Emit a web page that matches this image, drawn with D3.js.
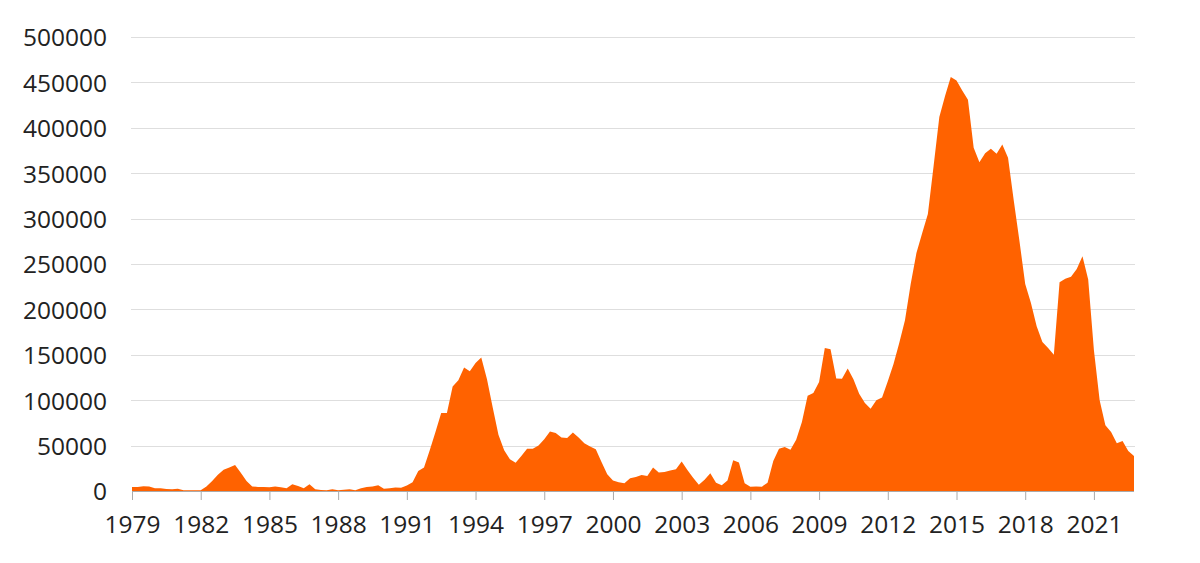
<!DOCTYPE html>
<html>
<head>
<meta charset="utf-8">
<script src="https://cdn.jsdelivr.net/npm/d3@7"></script>
<style>
  html, body { margin: 0; padding: 0; background: #fff; }
  svg { display: block; }
</style>
</head>
<body>
<svg id="chart" width="1200" height="563"></svg>
<script>
// Quarterly series, first quarter = 1979 Q1
const startYear = 1979;
const values = [
  4500, 4500, 5200, 5000,        // 1979
  3000, 3000, 2200, 1800,        // 1980
  2500, 800, 800, 800,           // 1981
  800, 5000, 11000, 18000,       // 1982
  23500, 26000, 28600, 20000,    // 1983
  11000, 5000, 4500, 4500,       // 1984
  4000, 5000, 4000, 3000,        // 1985
  7300, 5500, 3000, 7300,        // 1986
  2000, 1200, 700, 2000,         // 1987
  700, 1500, 1800, 700,          // 1988
  3000, 4500, 5000, 6300,        // 1989
  2500, 3000, 3800, 3500,        // 1990
  6000, 9500, 22000, 26000,      // 1991
  45000, 65000, 86000, 86000,    // 1992
  115000, 122000, 136000, 132000,// 1993
  141000, 147000, 123000, 92000, // 1994
  62000, 45000, 35000, 31000,    // 1995
  38500, 46500, 46500, 50000,    // 1996
  57000, 65500, 64000, 59000,    // 1997
  58500, 64500, 59000, 52500,    // 1998
  49000, 46000, 32000, 18500,    // 1999
  11500, 9500, 8500, 14000,      // 2000
  15500, 17500, 16500, 26000,    // 2001
  20500, 21000, 22500, 24000,    // 2002
  32500, 23000, 14500, 7000,     // 2003
  12500, 19500, 9000, 6300,      // 2004
  11500, 34000, 31500, 8500,     // 2005
  4800, 5000, 4800, 9000,        // 2006
  33000, 46500, 48500, 45500,    // 2007
  56500, 76000, 105000, 108000,  // 2008
  120000, 157500, 156000, 124000,// 2009
  123500, 135000, 123000, 107000,// 2010
  97000, 90500, 100000, 103000,  // 2011
  121000, 140000, 163000, 188000,// 2012
  228000, 262000, 284000, 305000,// 2013
  358000, 412000, 435000, 456000,// 2014
  452000, 441000, 431000, 378000,// 2015
  362000, 372000, 377000, 371500,// 2016
  381500, 367000, 320000, 275000,// 2017
  228000, 207000, 181500, 164000,// 2018
  157500, 150000, 230000, 233700,// 2019
  236000, 244600, 258600, 233000,// 2020
  155000, 100000, 72300, 65000,  // 2021
  52500, 55000, 44000, 38500     // 2022
];
const xTickYears = [1979, 1982, 1985, 1988, 1991, 1994, 1997, 2000, 2003, 2006, 2009, 2012, 2015, 2018, 2021];
const yTickValues = [0, 50000, 100000, 150000, 200000, 250000, 300000, 350000, 400000, 450000, 500000];

const data = values.map((v, i) => ({ t: startYear + i / 4, v }));

const svg = d3.select("#chart");
const plotLeft = 132, plotRight = 1134, plotTop = 37, plotBottom = 491;

const x = d3.scaleLinear()
  .domain([startYear, startYear + (values.length - 1) / 4])
  .range([plotLeft, plotRight]);
const y = d3.scaleLinear().domain([0, 500000]).range([plotBottom, plotTop]);

const fontFamily = "'Open Sans', 'Liberation Sans', Arial, sans-serif";

// gridlines
svg.append("g")
  .selectAll("line")
  .data(yTickValues.filter(d => d > 0))
  .join("line")
  .attr("x1", plotLeft - 1)
  .attr("x2", plotRight + 1)
  .attr("y1", d => Math.round(y(d)) + 0.5)
  .attr("y2", d => Math.round(y(d)) + 0.5)
  .attr("stroke", "#dedede")
  .attr("stroke-width", 1);

// area
const area = d3.area()
  .x(d => x(d.t))
  .y0(y(0))
  .y1(d => y(d.v));
svg.append("path")
  .datum(data)
  .attr("d", area)
  .attr("fill", "#FF6200");

// y axis labels
const yAxis = d3.axisLeft(y)
  .tickValues(yTickValues)
  .tickSize(0)
  .tickPadding(25)
  .tickFormat(d3.format("d"));
const gy = svg.append("g").attr("transform", `translate(${plotLeft},0)`).call(yAxis);
gy.select(".domain").remove();
gy.selectAll("text")
  .attr("font-family", fontFamily)
  .attr("font-size", 24.5)
  .attr("fill", "#222")
  .attr("dy", "0.36em");

// x axis
const xAxis = d3.axisBottom(x)
  .tickValues(xTickYears)
  .tickSize(9)
  .tickPadding(16)
  .tickFormat(d3.format("d"));
const gx = svg.append("g").attr("transform", `translate(0,${plotBottom})`).call(xAxis);
gx.select(".domain").attr("stroke", "#aaa").attr("d", `M${plotLeft},0.5H${plotRight}`);
gx.selectAll(".tick line").attr("stroke", "#aaa");
gx.selectAll("text")
  .attr("font-family", fontFamily)
  .attr("font-size", 24.5)
  .attr("fill", "#222");
</script>
</body>
</html>
